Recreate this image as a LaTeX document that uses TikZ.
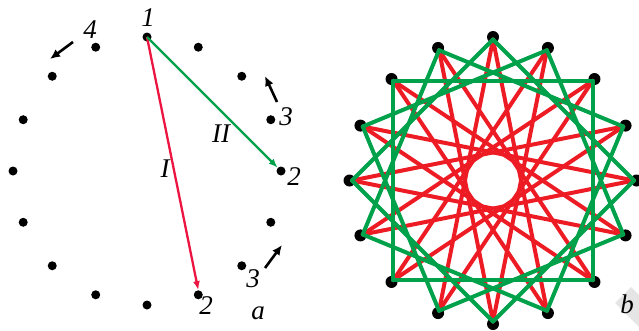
\documentclass[tikz,border=0pt]{standalone}
\usepackage{fontspec}
\setmainfont{Liberation Serif}
\usetikzlibrary{arrows.meta}
\definecolor{myred}{RGB}{237,28,36}
\definecolor{arrred}{RGB}{236,20,64}
\definecolor{mygreen}{RGB}{0,161,75}
\begin{document}
\begin{tikzpicture}[x=1pt,y=-1pt,
  dot/.style={circle,fill=black,inner sep=0pt,minimum size=9pt},
  bigdot/.style={circle,fill=black,inner sep=0pt,minimum size=12pt},
  lbl/.style={font=\fontsize{27}{27}\selectfont\itshape,inner sep=0pt},
  redline/.style={draw=myred,line width=4pt},
  greenline/.style={draw=mygreen,line width=4pt},
  blackarrow/.style={draw=black,line width=2.6pt,-{Latex[length=10pt,width=9pt]}}]
\useasboundingbox (0,0) rectangle (639,330);
% grey patch behind b
\fill[gray!20] (615,303) -- (631,287) -- (660,316) -- (644,332) -- cycle;
% left figure
\foreach \k in {0,...,15}
  \node[dot] (L\k) at ({147+134*sin(22.5*\k)},{171-134*cos(22.5*\k)}) {};
\draw[draw=arrred,line width=2.3pt,-{Latex[length=9pt,width=7pt]}] (L0.center) -- (L7.north);
\draw[draw=mygreen,line width=2.3pt,-{Latex[length=9pt,width=7pt]}] (L0.center) -- (L4.north west);
\node[lbl] (n1) at (148,18) {1};
\node[lbl] (nII) at (221,134) {II};
\node[lbl] (nI) at (165,169) {I};
\node[lbl] (n2a) at (294,177) {2};
\node[lbl] (n2b) at (206,306) {2};
\node[lbl] (n3a) at (286,117) {3};
\node[lbl] (n3b) at (253,279) {3};
\node[lbl] (n4) at (90,30) {4};
\node[lbl] (na) at (258,313) {a};
\coordinate (a4s) at (73,42); \coordinate (a4e) at (50,59);
\coordinate (a3s) at (277,102); \coordinate (a3e) at (265,76);
\coordinate (b3s) at (265,268); \coordinate (b3e) at (282,245);
\draw[blackarrow] (a4s) -- (a4e);
\draw[blackarrow] (a3s) -- (a3e);
\draw[blackarrow] (b3s) -- (b3e);
% right figure
\foreach \k in {0,...,15}
  \coordinate (R\k) at ({493+141*sin(22.5*\k)},{180.5-141*cos(22.5*\k)});
\foreach \k in {0,...,15}
  \node[bigdot] (Rd\k) at ({493+143.5*sin(22.5*\k)},{180.5-143.5*cos(22.5*\k)}) {};
\foreach \k in {0,...,15}{
  \pgfmathtruncatemacro{\j}{mod(\k+7,16)}
  \draw[redline,line cap=round] (R\k) -- (R\j);
}
\foreach \k in {0,...,15}{
  \pgfmathtruncatemacro{\j}{mod(\k+4,16)}
  \draw[greenline,line cap=round] (R\k) -- (R\j);
}
\node[lbl] (nb) at (627,304) {b};
\end{tikzpicture}
\end{document}
